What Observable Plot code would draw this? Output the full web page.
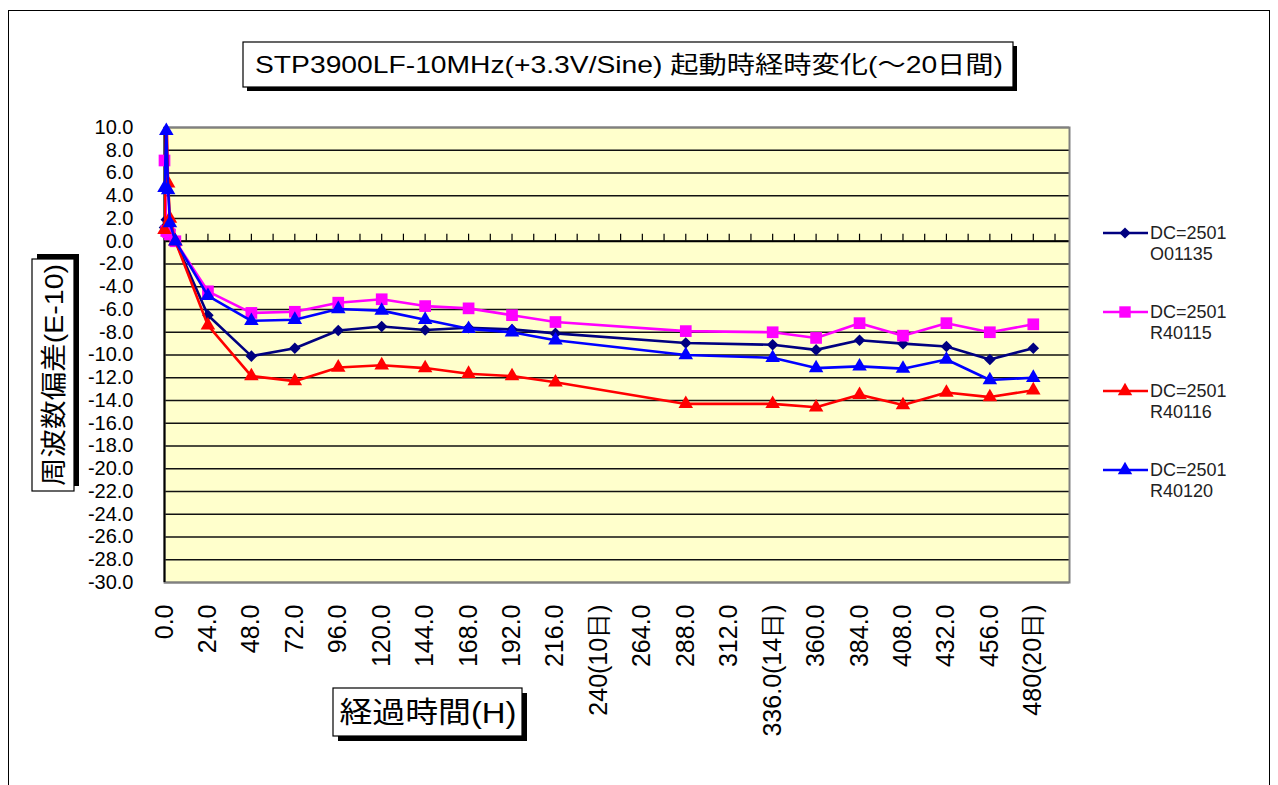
<!DOCTYPE html>
<html>
<head>
<meta charset="utf-8">
<script src="https://cdn.jsdelivr.net/npm/d3@7"></script>
<script src="https://cdn.jsdelivr.net/npm/@observablehq/plot@0.6"></script>
<style>
  html, body { margin: 0; padding: 0; background: #fff; }
  #wrap { position: relative; width: 1278px; height: 785px; overflow: hidden; }
  #overlay { position: absolute; left: 0; top: 0; pointer-events: none; }
  #chart { position: absolute; left: 0; top: 0; }
</style>
</head>
<body>
<div id="wrap">
  <div id="chart"></div>
  <svg id="overlay" width="1278" height="785"></svg>
</div>
<script>
// ---- data ----
const hours = [0, 1, 2, 3, 6, 24, 48, 72, 96, 120, 144, 168, 192, 216, 288, 336, 360, 384, 408, 432, 456, 480];
const sO01135 = [1.2, 1.9, 1.6, 1.0, 0.0, -6.5, -10.1, -9.4, -7.85, -7.5, -7.8, -7.6, -7.75, -8.1, -8.95, -9.1, -9.55, -8.7, -9.0, -9.25, -10.4, -9.4];
const sR40115 = [7.1, 0.9, 0.8, 0.6, 0.0, -4.4, -6.3, -6.2, -5.4, -5.1, -5.7, -5.9, -6.5, -7.1, -7.9, -8.0, -8.5, -7.2, -8.3, -7.2, -8.0, -7.3];
const sR40116 = [1.0, 12.0, 5.1, 2.0, 0.0, -7.4, -11.85, -12.3, -11.1, -10.9, -11.15, -11.65, -11.85, -12.4, -14.3, -14.3, -14.6, -13.5, -14.4, -13.3, -13.7, -13.1];
const sR40120 = [4.7, 9.7, 4.5, 1.6, 0.0, -4.8, -7.0, -6.9, -5.95, -6.1, -6.9, -7.7, -8.0, -8.7, -10.0, -10.25, -11.15, -11.0, -11.2, -10.4, -12.2, -12.0];

const seriesNames = ["DC=2501\nO01135", "DC=2501\nR40115", "DC=2501\nR40116", "DC=2501\nR40120"];
const seriesColors = ["#000080", "#ff00ff", "#ff0000", "#0000ff"];
const seriesSymbols = ["diamond2", "square", "triangle", "triangle"];

const xTickHours = [0, 24, 48, 72, 96, 120, 144, 168, 192, 216, 240, 264, 288, 312, 336, 360, 384, 408, 432, 456, 480];
const xTickLabels = ["0.0", "24.0", "48.0", "72.0", "96.0", "120.0", "144.0", "168.0", "192.0", "216.0", "240(10日)", "264.0", "288.0", "312.0", "336.0(14日)", "360.0", "384.0", "408.0", "432.0", "456.0", "480(20日)"];
const yTicks = [10, 8, 6, 4, 2, 0, -2, -4, -6, -8, -10, -12, -14, -16, -18, -20, -22, -24, -26, -28, -30];
const yTickLabels = ["10.0", "8.0", "6.0", "4.0", "2.0", "0.0", "-2.0", "-4.0", "-6.0", "-8.0", "-10.0", "-12.0", "-14.0", "-16.0", "-18.0", "-20.0", "-22.0", "-24.0", "-26.0", "-28.0", "-30.0"];
const minorTicks = d3.range(12, 500, 12);

const titleText = "STP3900LF-10MHz(+3.3V/Sine)  起動時経時変化(～20日間)";
const yTitle = "周波数偏差(E-10)";
const xTitle = "経過時間(H)";

// ---- build ----
const allSeries = [sO01135, sR40115, sR40116, sR40120];
const rows = [];
allSeries.forEach((arr, s) => arr.forEach((v, i) => rows.push({series: s, h: hours[i], v})));

const tickFont = "'Liberation Sans Narrow', 'Arial Narrow', 'Liberation Sans', Arial, sans-serif";
const yFont = "'Liberation Sans', Arial, sans-serif";

const marks = [
  Plot.frame({fill: "#ffffcc"}),
  Plot.ruleY(yTicks, {stroke: "#111", strokeWidth: 1.4}),
  Plot.ruleX(minorTicks, {x: d => d, y1: 0, y2: 0.62, stroke: "#000", strokeWidth: 1.2}),
  Plot.ruleY([0], {stroke: "#000", strokeWidth: 2}),
  Plot.frame({stroke: "#808080", strokeWidth: 2}),
  Plot.ruleX([0], {stroke: "#000", strokeWidth: 2}),
  Plot.axisY({ticks: yTicks, tickFormat: d => yTickLabels[yTicks.indexOf(d)], tickSize: 0, tickPadding: 31, fontSize: 20, label: null, fontFamily: yFont}),
  Plot.axisX({ticks: xTickHours, tickFormat: d => xTickLabels[xTickHours.indexOf(d)], tickRotate: -90, tickSize: 0, tickPadding: 22, fontSize: 25, label: null, fontFamily: tickFont})
];
allSeries.forEach((arr, s) => {
  const data = rows.filter(r => r.series === s);
  marks.push(Plot.line(data, {x: "h", y: "v", stroke: seriesColors[s], strokeWidth: 2.6, clip: true}));
  marks.push(Plot.dot(data.filter(r => r.v <= 10.2), {x: "h", y: "v", symbol: () => seriesSymbols[s], fill: seriesColors[s], stroke: "none", r: s === 1 ? 6.6 : (s === 0 ? 5.2 : 5.4)}));
});

const chart = Plot.plot({
  width: 1278,
  height: 785,
  marginLeft: 164,
  marginRight: 209,
  marginTop: 127,
  marginBottom: 203,
  x: {domain: [0, 500]},
  y: {domain: [-30, 10]},
  symbol: {type: "identity"},
  style: {background: "transparent", color: "#000", fontFamily: tickFont, overflow: "visible"},
  marks
});
document.getElementById("chart").appendChild(chart);

// ---- overlay: titles, legend, outer border ----
const ov = d3.select("#overlay");
const cjk = "'Liberation Sans', 'Noto Sans CJK JP', sans-serif";
ov.append("rect").attr("x", 8.5).attr("y", 10.5).attr("width", 1261).attr("height", 800).attr("fill", "none").attr("stroke", "#000").attr("stroke-width", 1);

// chart title
ov.append("rect").attr("x", 247).attr("y", 46).attr("width", 770).attr("height", 45).attr("fill", "#000");
ov.append("rect").attr("x", 243).attr("y", 42).attr("width", 770).attr("height", 45).attr("fill", "#fff").attr("stroke", "#000").attr("stroke-width", 1.2);
ov.append("text").attr("x", 629).attr("y", 73).attr("text-anchor", "middle").attr("font-size", 24).attr("font-family", cjk)
  .attr("textLength", 748).attr("lengthAdjust", "spacingAndGlyphs").text(titleText);

// y title
ov.append("rect").attr("x", 37).attr("y", 254).attr("width", 42).attr("height", 232).attr("fill", "#000");
ov.append("rect").attr("x", 32).attr("y", 259).attr("width", 42).attr("height", 232).attr("fill", "#fff").attr("stroke", "#000").attr("stroke-width", 1.2);
ov.append("text").attr("transform", "translate(63,375) rotate(-90)").attr("text-anchor", "middle").attr("font-size", 26).attr("font-family", cjk)
  .attr("textLength", 222).attr("lengthAdjust", "spacingAndGlyphs").text(yTitle);

// x title
ov.append("rect").attr("x", 338).attr("y", 693).attr("width", 189).attr("height", 48).attr("fill", "#000");
ov.append("rect").attr("x", 333).attr("y", 688).attr("width", 189).attr("height", 48).attr("fill", "#fff").attr("stroke", "#000").attr("stroke-width", 1.2);
ov.append("text").attr("x", 428).attr("y", 723).attr("text-anchor", "middle").attr("font-size", 29).attr("font-family", cjk)
  .attr("textLength", 177).attr("lengthAdjust", "spacingAndGlyphs").text(xTitle);

// legend
const legY = [233, 312, 391, 470];
seriesNames.forEach((name, s) => {
  const y = legY[s];
  ov.append("line").attr("x1", 1103).attr("x2", 1148).attr("y1", y).attr("y2", y).attr("stroke", seriesColors[s]).attr("stroke-width", 2.6);
  const symMap = {diamond2: d3.symbolDiamond2, square: d3.symbolSquare, triangle: d3.symbolTriangle};
  const size = s === 1 ? 130 : (s === 0 ? 80 : 90);
  ov.append("path").attr("transform", `translate(1125,${y})`).attr("d", d3.symbol(symMap[seriesSymbols[s]], size)()).attr("fill", seriesColors[s]);
  const lines = name.split("\n");
  lines.forEach((ln, j) => {
    ov.append("text").attr("x", 1150).attr("y", y + 6 + j * 21).attr("font-size", 18).attr("font-family", tickFont).attr("fill", "#222").text(ln);
  });
});
</script>
</body>
</html>
